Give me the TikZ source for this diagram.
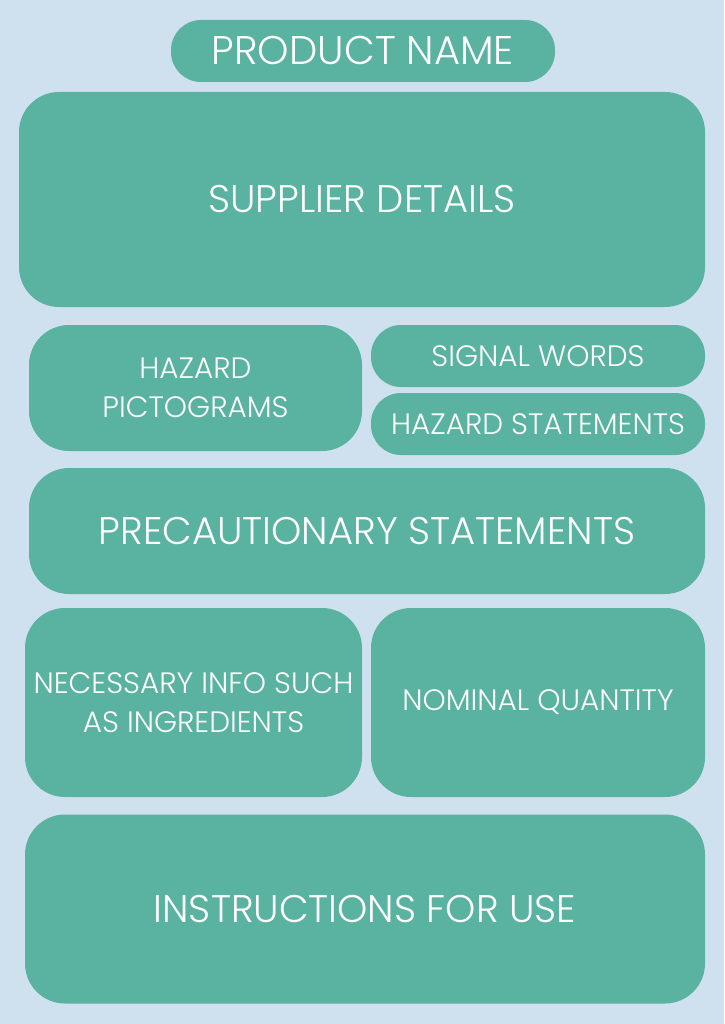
\documentclass[tikz,border=0pt]{standalone}
\usepackage{fontspec}
\setmainfont{Poppins Light}
\usetikzlibrary{positioning}
\definecolor{sheetblue}{RGB}{207,225,238}
\definecolor{panelteal}{RGB}{90,178,160}

\begin{document}
\begin{tikzpicture}[x=1pt,y=-1pt,
  panel/.style={fill=panelteal,text=white,rounded corners=40pt,inner sep=0pt,align=center},
  pill/.style={panel,rounded corners=30pt},
  bigtext/.style={font=\fontsize{38.5pt}{44pt}\selectfont},
  smalltext/.style={font=\fontsize{29.5pt}{39pt}\selectfont}]
\fill[sheetblue] (0,0) rectangle (724,1024);
\useasboundingbox (0,0) rectangle (724,1024);
\node[pill,font=\fontsize{40pt}{44pt}\selectfont,minimum width=384pt,minimum height=62pt] (name) at (363,51) {PRODUCT NAME};
\node[panel,bigtext,minimum width=686pt,minimum height=215pt] (supplier) at (362,199.5) {SUPPLIER DETAILS};
\node[panel,smalltext,minimum width=333pt,minimum height=126pt] (picto) at (195.5,388) {HAZARD\\PICTOGRAMS};
\node[pill,smalltext,minimum width=334pt,minimum height=62pt] (signal) at (538,356) {SIGNAL WORDS};
\node[pill,smalltext,minimum width=334pt,minimum height=62pt] (hstate) at (538,424) {HAZARD STATEMENTS};
\node[panel,bigtext,minimum width=676pt,minimum height=126pt] (precaution) at (367,531) {PRECAUTIONARY STATEMENTS};
\node[panel,smalltext,minimum width=337pt,minimum height=189pt] (info) at (193.5,702.5) {NECESSARY INFO SUCH\\AS INGREDIENTS};
\node[panel,smalltext,minimum width=334pt,minimum height=189pt] (quantity) at (538,702.5) {NOMINAL QUANTITY};
\node[panel,bigtext,minimum width=680pt,minimum height=189pt] (instructions) at (365,909) {INSTRUCTIONS FOR USE};
\end{tikzpicture}
\end{document}
